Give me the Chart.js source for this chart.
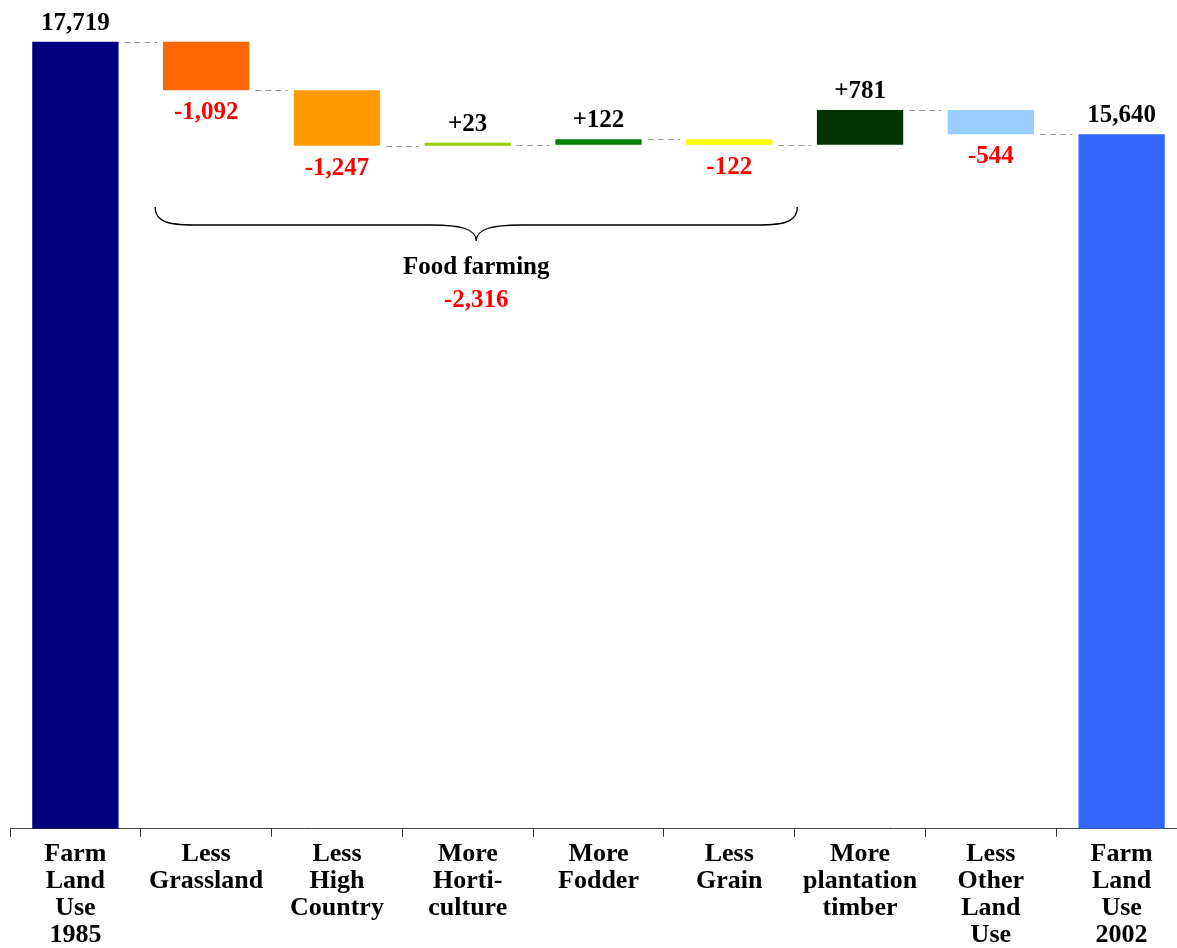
<!DOCTYPE html>
<html>
<head>
<meta charset="utf-8">
<title>Farm land use 1985 - 2002</title>
<script src="https://cdn.jsdelivr.net/npm/chart.js@4.4.1/dist/chart.umd.min.js"></script>
<style>
  html, body { margin: 0; padding: 0; background: #fff; overflow: hidden; }
  #chartBox { width: 1190px; height: 953px; }
</style>
</head>
<body>
<div id="chartBox"><canvas id="landChart" width="1190" height="953"></canvas></div>
<script>
// values (thousand hectares)
const categories = [
    ['Farm', 'Land', 'Use', '1985'],
    ['Less', 'Grassland'],
    ['Less', 'High', 'Country'],
    ['More', 'Horti-', 'culture'],
    ['More', 'Fodder'],
    ['Less', 'Grain'],
    ['More', 'plantation', 'timber'],
    ['Less', 'Other', 'Land', 'Use'],
    ['Farm', 'Land', 'Use', '2002']
];
const startTotal = 17719;
const changes = [-1092, -1247, 23, 122, -122, 781, -544];
const endTotal = 15640;
const barColors = ['#000080', '#FF6600', '#FF9900', '#99CC00', '#008000', '#FFFF00', '#003300', '#99CCFF', '#3366FF'];

// the brace under the food farming bars
const groupLabel = 'Food farming';
const groupValue = -2316;
const groupFrom = 1;
const groupTo = 5;

const FONT = '"Liberation Serif", "DejaVu Serif", serif';

// build floating bars [from, to] and the running level after each bar
const ranges = [[0, startTotal]];
const levels = [startTotal];
let running = startTotal;
changes.forEach(c => {
    ranges.push([running, running + c]);
    running += c;
    levels.push(running);
});
ranges.push([0, endTotal]);
levels.push(endTotal);

const fmt = v => Math.abs(v).toLocaleString('en-US');
const labelTexts = [fmt(startTotal)]
    .concat(changes.map(c => (c < 0 ? '-' : '+') + fmt(c)))
    .concat([fmt(endTotal)]);
const labelUp = [true].concat(changes.map(c => c >= 0)).concat([true]);

const waterfallExtras = {
    id: 'waterfallExtras',
    afterDatasetsDraw(chart) {
        const ctx = chart.ctx;
        const bars = chart.getDatasetMeta(0).data;
        const yScale = chart.scales.y;
        const top = chart.chartArea.top;

        // dashed connectors
        ctx.save();
        ctx.strokeStyle = '#999999';
        ctx.lineWidth = 1;
        ctx.setLineDash([6, 4]);
        for (let i = 0; i < bars.length - 1; i++) {
            const y = Math.round(yScale.getPixelForValue(levels[i])) + 0.5;
            const x1 = bars[i].x + bars[i].width / 2 + 6;
            const x2 = bars[i + 1].x - bars[i + 1].width / 2 - 6;
            ctx.beginPath();
            ctx.moveTo(x1, y);
            ctx.lineTo(x2, y);
            ctx.stroke();
        }
        ctx.restore();

        // value labels
        ctx.save();
        ctx.font = 'bold 25px ' + FONT;
        ctx.textAlign = 'center';
        ctx.textBaseline = 'alphabetic';
        bars.forEach((bar, i) => {
            const hi = Math.min(bar.y, bar.base);
            const lo = Math.max(bar.y, bar.base);
            if (labelUp[i]) {
                ctx.fillStyle = '#000000';
                ctx.fillText(labelTexts[i], bar.x, hi - 12);
            } else {
                ctx.fillStyle = '#FF0000';
                ctx.fillText(labelTexts[i], bar.x, lo + 29);
            }
        });
        ctx.restore();

        // curly brace + group label
        const xs = chart.scales.x;
        const left = xs.getPixelForValue(groupFrom) - 51;
        const right = xs.getPixelForValue(groupTo) + 68;
        const mid = (left + right) / 2;
        const yEnd = top + 207, yLine = top + 225, yTip = top + 241;
        ctx.save();
        ctx.strokeStyle = '#000000';
        ctx.lineWidth = 1.3;
        ctx.beginPath();
        ctx.moveTo(left, yEnd);
        ctx.bezierCurveTo(left, yLine, left + 20, yLine, left + 45, yLine);
        ctx.lineTo(mid - 45, yLine);
        ctx.bezierCurveTo(mid - 15, yLine, mid, yLine + 4, mid, yTip);
        ctx.bezierCurveTo(mid, yLine + 4, mid + 15, yLine, mid + 45, yLine);
        ctx.lineTo(right - 45, yLine);
        ctx.bezierCurveTo(right - 20, yLine, right, yLine, right, yEnd);
        ctx.stroke();

        ctx.textAlign = 'center';
        ctx.font = 'bold 25px ' + FONT;
        ctx.fillStyle = '#000000';
        ctx.fillText(groupLabel, mid, top + 274);
        ctx.fillStyle = '#FF0000';
        ctx.fillText('-' + fmt(groupValue), mid, top + 307);
        ctx.restore();
    }
};

new Chart(document.getElementById('landChart').getContext('2d'), {
    type: 'bar',
    data: {
        labels: categories,
        datasets: [{
            data: ranges,
            backgroundColor: barColors,
            borderWidth: 0,
            categoryPercentage: 1,
            barPercentage: 0.66,
            minBarLength: 3
        }]
    },
    options: {
        responsive: false,
        animation: false,
        devicePixelRatio: 1,
        layout: { padding: { left: 10, right: 3, top: 0, bottom: 0 } },
        plugins: {
            legend: { display: false },
            tooltip: { enabled: false }
        },
        scales: {
            x: {
                grid: {
                    offset: true,
                    drawOnChartArea: false,
                    drawTicks: true,
                    tickLength: 8,
                    color: '#333333'
                },
                border: { display: true, color: '#444444', width: 1 },
                ticks: {
                    color: '#000000',
                    autoSkip: false,
                    maxRotation: 0,
                    padding: 4,
                    font: { family: FONT, size: 26, weight: 'bold', lineHeight: 1.04 }
                }
            },
            y: {
                display: false,
                min: 0,
                max: 18660
            }
        }
    },
    plugins: [waterfallExtras]
});
</script>
</body>
</html>
